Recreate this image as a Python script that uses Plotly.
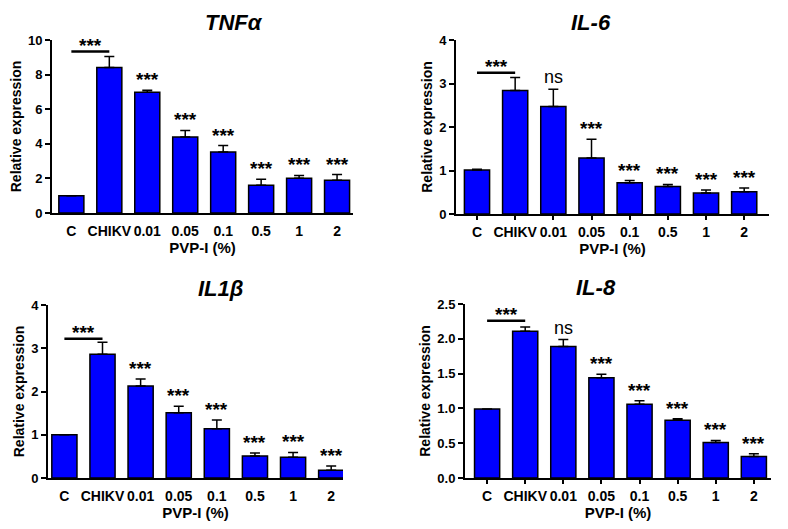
import plotly.graph_objects as go

# categories shared by all four panels
categories = ["C", "CHIKV", "0.01", "0.05", "0.1", "0.5", "1", "2"]

# mean relative expression and upper error (SEM) for each gene
tnf_mean = [1.0, 8.41, 6.98, 4.39, 3.52, 1.61, 2.01, 1.90]
tnf_err = [0.0, 0.63, 0.12, 0.38, 0.38, 0.34, 0.16, 0.32]
il6_mean = [1.01, 2.84, 2.47, 1.29, 0.72, 0.63, 0.48, 0.51]
il6_err = [0.02, 0.30, 0.40, 0.43, 0.05, 0.05, 0.07, 0.09]
il1b_mean = [1.0, 2.86, 2.13, 1.51, 1.14, 0.51, 0.48, 0.18]
il1b_err = [0.0, 0.28, 0.16, 0.15, 0.20, 0.07, 0.11, 0.10]
il8_mean = [0.99, 2.11, 1.89, 1.44, 1.06, 0.83, 0.51, 0.31]
il8_err = [0.0, 0.06, 0.10, 0.05, 0.05, 0.02, 0.03, 0.04]

# significance labels for 0.01 .. 2 (vs CHIKV), and C vs CHIKV bracket
tnf_sig = ["***", "***", "***", "***", "***", "***"]
il6_sig = ["ns", "***", "***", "***", "***", "***"]
il1b_sig = ["***", "***", "***", "***", "***", "***"]
il8_sig = ["ns", "***", "***", "***", "***", "***"]
bracket_y = [9.33, 3.25, 3.22, 2.26]

titles = ["<i>TNF\u03b1</i>", "<i>IL-6</i>", "<i>IL1\u03b2</i>", "<i>IL-8</i>"]
y_ranges = [[0, 10], [0, 4], [0, 4], [0, 2.5]]
y_dticks = [2, 1, 1, 0.5]
y_formats = ["d", "d", "d", ".1f"]
x_tickmarks = [False, True, False, True]   # only IL-6 and IL-8 show x tick marks

# page body has an 8px margin, so the figure is drawn 8px in from the window edge
OFF = 8
W, H = 788 - 2 * OFF, 529 - 2 * OFF
# pixel boxes of each plot area in window coords: (left, right, top, bottom)
boxes = [(52, 353, 40, 213), (456, 769, 40, 214), (48, 343, 305, 478), (465, 771, 304, 478)]
x_ranges = [[-0.51, 7.42], [-0.55, 7.65], [-0.43, 7.31], [-0.58, 7.45]]

means = [tnf_mean, il6_mean, il1b_mean, il8_mean]
errs = [tnf_err, il6_err, il1b_err, il8_err]
sigs = [tnf_sig, il6_sig, il1b_sig, il8_sig]

FONT = "Liberation Sans, Arial, sans-serif"

fig = go.Figure()
annotations = []
shapes = []

for i in range(4):
    n = "" if i == 0 else str(i + 1)
    xa, ya = "x" + n, "y" + n
    l, r, t, b = [v - OFF for v in boxes[i]]

    fig.add_trace(go.Bar(
        x=categories, y=means[i], xaxis=xa, yaxis=ya, width=0.66,
        marker=dict(color="#0000FF", line=dict(color="black", width=1.5)),
        error_y=dict(type="data", symmetric=False, array=errs[i],
                     arrayminus=[0] * len(errs[i]), color="black",
                     thickness=1.5, width=5),
        showlegend=False,
    ))

    axis_common = dict(showline=True, linecolor="black", linewidth=2,
                       showgrid=False, zeroline=False, automargin=False)
    fig.update_layout(**{
        "xaxis" + n: dict(domain=[l / W, r / W], anchor=ya, range=x_ranges[i],
                          ticks="outside", ticklen=4, tickwidth=1.5,
                          tickcolor="black" if x_tickmarks[i] else "rgba(0,0,0,0)",
                          tickfont=dict(family=FONT, size=14, color="black"),
                          title=dict(text="<b>PVP-I (%)</b>", standoff=3,
                                     font=dict(family=FONT, size=15, color="black")),
                          tickprefix="<b>", ticksuffix="</b>", **axis_common),
        "yaxis" + n: dict(domain=[1 - b / H, 1 - t / H], anchor=xa, range=y_ranges[i],
                          dtick=y_dticks[i], tickformat=y_formats[i],
                          ticks="outside", ticklen=5, tickwidth=2, tickcolor="black",
                          tickfont=dict(family=FONT, size=13, color="black"),
                          tickprefix="<b>", ticksuffix="</b>",
                          title=dict(text="<b>Relative expression</b>", standoff=3,
                                     font=dict(family=FONT, size=14, color="black")),
                          **axis_common),
    })

    # panel title
    annotations.append(dict(text="<b>" + titles[i] + "</b>", xref="paper", yref="paper",
                            x=(l + r) / 2 / W, y=1 - (t - 17) / H, yanchor="middle",
                            showarrow=False,
                            font=dict(family=FONT, size=22, color="black")))

    # C vs CHIKV bracket line and stars
    shapes.append(dict(type="line", xref=xa, yref=ya, x0=0, x1=1,
                       y0=bracket_y[i], y1=bracket_y[i],
                       line=dict(color="black", width=2.5)))
    annotations.append(dict(text="<b>***</b>", xref=xa, yref=ya, x=0.5, y=bracket_y[i],
                            yanchor="bottom", yshift=-6, showarrow=False,
                            font=dict(family=FONT, size=19, color="black")))

    # significance above each treatment bar
    for j, s in enumerate(sigs[i]):
        k = j + 2
        top = means[i][k] + errs[i][k]
        if s == "ns":
            annotations.append(dict(text="ns", xref=xa, yref=ya, x=k, y=top,
                                    yanchor="bottom", yshift=0, showarrow=False,
                                    font=dict(family=FONT, size=18, color="black")))
        else:
            annotations.append(dict(text="<b>" + s + "</b>", xref=xa, yref=ya, x=k, y=top,
                                    yanchor="bottom", yshift=-2, showarrow=False,
                                    font=dict(family=FONT, size=19, color="black")))

fig.update_layout(width=W, height=H, margin=dict(l=0, r=0, t=0, b=0),
                  plot_bgcolor="white", paper_bgcolor="white",
                  annotations=annotations, shapes=shapes, bargap=0.34)

fig.write_html("out.html")
